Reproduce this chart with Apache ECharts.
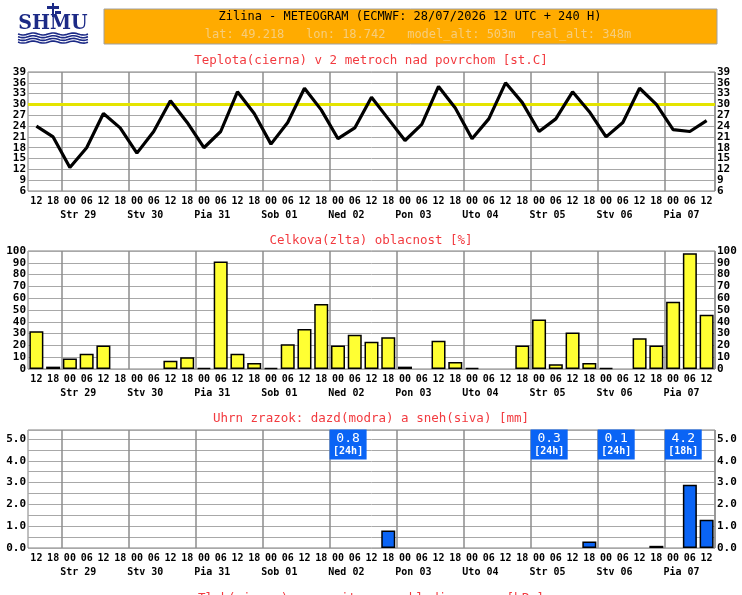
<!DOCTYPE html>
<html>
<head>
<meta charset="utf-8">
<script src="https://cdn.jsdelivr.net/npm/echarts@6/dist/echarts.min.js"></script>
<style>html,body{margin:0;padding:0;background:#fff}#main{width:742px;height:595px}</style>
</head>
<body>
<div id="main"></div>
<script>
var hours = ['12','18',
    '00','06','12','18', '00','06','12','18', '00','06','12','18',
    '00','06','12','18', '00','06','12','18', '00','06','12','18',
    '00','06','12','18', '00','06','12','18', '00','06','12','18',
    '00','06','12']
var days = ['Str 29','Stv 30','Pia 31','Sob 01','Ned 02','Pon 03','Uto 04','Str 05','Stv 06','Pia 07']

// teplota [st.C]
var temp = [24, 21, 12.5, 18, 27.5, 23.5, 16.5, 22.5, 31, 25, 18, 22.5, 33.5, 27.5, 19, 25,
    34.5, 28.5, 20.5, 23.5, 32, 26, 20, 24.5, 35, 29, 20.5, 26, 36, 30.5, 22.5, 26,
    33.5, 28, 21, 25, 34.5, 30, 23, 22.5, 25.5]
var tempLimit = 30
var tempTicks = [6, 39, 3]

// oblacnost [%]
var cloud = [32, 2, 9, 13, 20, 0, 0, 0, 7, 10, 1, 91, 13, 5, 1, 21, 34, 55, 20, 29,
    23, 27, 2, 0, 24, 6, 1, 0, 0, 20, 42, 4, 31, 5, 1, 0, 26, 20, 57, 98, 46]
var cloudTicks = [0, 100, 10]

// zrazky [mm]
var rain = [0, 0, 0, 0, 0, 0, 0, 0, 0, 0, 0, 0, 0, 0, 0, 0, 0, 0, 0, 0,
    0, 0.8, 0, 0, 0, 0, 0, 0, 0, 0, 0, 0, 0, 0.3, 0, 0, 0, 0.1, 0, 2.9, 1.3]
var rainTicks = [0, 5.41, 0.5]

var mono = 'DejaVu Sans Mono'
var red = '#f23a3f'
var blue = '#0a64f5'

// popisky dni lezia na hranici medzi 00 a 06
var dayTicks = []
var d = 0
for (var k = 0; k <= hours.length; k++) {
    if (k < hours.length && hours[k] === '06') dayTicks.push(days[d++])
    else dayTicks.push('')
}

// denne sumy zrazok (od 00 UTC)
var boxData = []
for (var i = 0; i < hours.length; i++) {
    if (hours[i] !== '00') continue
    var s = 0, n = 0
    for (var j = i; j < i + 4 && j < rain.length; j++) { s += rain[j]; n++ }
    if (s > 0) boxData.push({value: [i, 4.74], total: s.toFixed(1), len: (n * 6) + 'h'})
}

var labelFont = {color: '#000', fontFamily: mono, fontSize: 10, fontWeight: 'bold'}

function hourAxis(gi) {
    return {
        type: 'category', gridIndex: gi, data: hours, boundaryGap: true,
        axisLine: {show: false}, axisTick: {show: false},
        axisLabel: Object.assign({interval: 0, margin: 5}, labelFont),
        splitLine: {show: true, interval: function (idx) { return hours[idx] === '00' },
            lineStyle: {color: '#8c8c8c', width: 1.5}}
    }
}
function dayAxis(gi) {
    return {
        type: 'category', gridIndex: gi, data: dayTicks, boundaryGap: false,
        position: 'bottom', offset: 14,
        axisLine: {show: false}, axisTick: {show: false}, splitLine: {show: false},
        axisLabel: Object.assign({interval: 0, margin: 5}, labelFont)
    }
}
function valAxis(gi, ticks, pos, fmt) {
    return {
        type: 'value', gridIndex: gi, position: pos,
        min: ticks[0], max: ticks[1], interval: ticks[2],
        axisLine: {show: false}, axisTick: {show: false},
        axisLabel: Object.assign({margin: 2, formatter: fmt}, labelFont, {fontSize: 11}),
        splitLine: {show: pos === 'left', lineStyle: {color: '#a8a8a8', width: 1}}
    }
}
function rainFmt(v) {
    if (Math.abs(v - Math.round(v)) < 1e-6 && v <= 5) return v.toFixed(1)
    return ''
}
function intFmt(v) { return String(v) }

function noZero(arr) {
    return arr.map(function (v) { return v > 0 ? v : '-' })
}

function panelTitle(text, top) {
    return {text: text, left: 'center', top: top, padding: 0,
        textStyle: {color: red, fontFamily: mono, fontSize: 12.5, fontWeight: 'normal'}}
}

// logo - vlny
var waves = []
for (var w = 0; w < 4; w++) {
    var pts = []
    for (var x = 18; x <= 88; x += 2) {
        pts.push([x, 34 + w * 2.7 + Math.sin((x - 18) / 3.2) * 1])
    }
    waves.push({type: 'polyline', shape: {points: pts}, style: {stroke: '#1c2a86', lineWidth: 1.6, fill: null}})
}

var chart = echarts.init(document.getElementById('main'))
var option = {
    backgroundColor: '#fff',
    animation: false,
    title: [
        panelTitle('Teplota(cierna) v 2 metroch nad povrchom [st.C]', 54),
        panelTitle('Celkova(zlta) oblacnost [%]', 234),
        panelTitle('Uhrn zrazok: dazd(modra) a sneh(siva) [mm]', 412),
        panelTitle('Tlak(cierna) prepocitany na hladinu mora [hPa]', 592)
    ],
    graphic: [
        {type: 'rect', shape: {x: 104, y: 9, width: 613, height: 35},
            style: {fill: '#ffab00', stroke: '#a0a0a0', lineWidth: 1}},
        {type: 'text', x: 410, y: 17, style: {text: 'Zilina - METEOGRAM (ECMWF: 28/07/2026 12 UTC + 240 H)',
            fill: '#000', font: '12px "DejaVu Sans Mono"', align: 'center', verticalAlign: 'middle'}},
        {type: 'text', x: 418, y: 35, style: {text: 'lat: 49.218   lon: 18.742   model_alt: 503m  real_alt: 348m',
            fill: '#f6cd7c', font: '12px "DejaVu Sans Mono"', align: 'center', verticalAlign: 'middle'}},
        {type: 'text', x: 53, y: 26, scaleY: 1.1, originX: 53, originY: 26, style: {text: 'SHMU', fill: '#1c2a86',
            font: 'bold 19px "DejaVu Serif"', align: 'center', verticalAlign: 'middle'}},
        {type: 'line', shape: {x1: 53, y1: 3, x2: 53, y2: 17}, style: {stroke: '#1c2a86', lineWidth: 2}},
        {type: 'rect', shape: {x: 47, y: 6, width: 12, height: 3}, style: {fill: '#1c2a86'}},
        {type: 'rect', shape: {x: 55, y: 11, width: 6, height: 3}, style: {fill: '#1c2a86'}}
    ].concat(waves),
    grid: [
        {left: 28, right: 27, top: 72, bottom: 404, show: true, borderColor: '#808080', borderWidth: 1},
        {left: 28, right: 27, top: 251, bottom: 226, show: true, borderColor: '#808080', borderWidth: 1},
        {left: 28, right: 27, top: 430, bottom: 47, show: true, borderColor: '#808080', borderWidth: 1}
    ],
    xAxis: [hourAxis(0), dayAxis(0), hourAxis(1), dayAxis(1), hourAxis(2), dayAxis(2)],
    yAxis: [
        valAxis(0, tempTicks, 'left', intFmt), valAxis(0, tempTicks, 'right', intFmt),
        valAxis(1, cloudTicks, 'left', intFmt), valAxis(1, cloudTicks, 'right', intFmt),
        valAxis(2, rainTicks, 'left', rainFmt), valAxis(2, rainTicks, 'right', rainFmt)
    ],
    series: [
        {
            name: 'teplota', type: 'line', xAxisIndex: 0, yAxisIndex: 0, data: temp,
            symbol: 'none', lineStyle: {color: '#000', width: 3.2}, z: 3,
            markLine: {
                silent: true, symbol: 'none', z: 1, label: {show: false},
                lineStyle: {color: '#e4e400', width: 3, type: 'solid'},
                data: [{yAxis: tempLimit}]
            }
        },
        {
            name: 'oblacnost', type: 'bar', xAxisIndex: 2, yAxisIndex: 2, data: noZero(cloud),
            barWidth: 14, itemStyle: {color: '#ffff33', borderColor: '#000', borderWidth: 1.5}
        },
        {
            name: 'dazd', type: 'bar', xAxisIndex: 4, yAxisIndex: 4, data: noZero(rain),
            barWidth: 14, itemStyle: {color: blue, borderColor: '#000', borderWidth: 1.5}
        },
        {
            name: 'suma', type: 'scatter', xAxisIndex: 5, yAxisIndex: 4, data: boxData,
            symbolSize: 0, silent: true, z: 5, itemStyle: {opacity: 1},
            label: {
                show: true, position: 'right', distance: 0, opacity: 1,
                backgroundColor: blue, padding: [2, 0, 2, 0], width: 37, align: 'left',
                formatter: function (p) { return '{a|' + p.data.total + '}\n{b|[' + p.data.len + ']}' },
                rich: {
                    a: {color: '#fff', fontFamily: mono, fontSize: 13, width: 37, align: 'center', lineHeight: 14},
                    b: {color: '#fff', fontFamily: mono, fontSize: 10, fontWeight: 'bold', width: 37, align: 'center', lineHeight: 12}
                }
            }
        }
    ]
}
chart.setOption(option)
</script>
</body>
</html>
